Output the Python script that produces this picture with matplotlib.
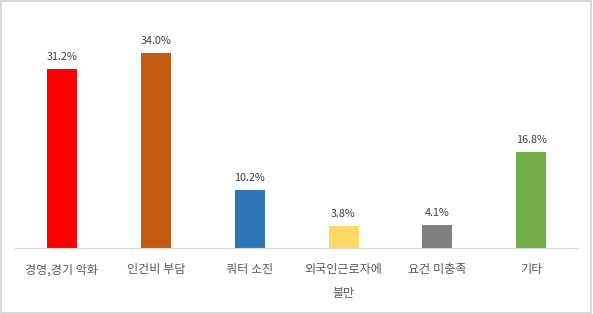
import matplotlib
matplotlib.use("Agg")
import matplotlib.pyplot as plt
from matplotlib.patches import Rectangle

plt.rcParams['font.family'] = ['Noto Sans CJK KR', 'DejaVu Sans']

categories = ["경영,경기 악화", "인건비 부담", "쿼터 소진", "외국인근로자에\n불만", "요건 미충족", "기타"]
values = [31.2, 34.0, 10.2, 3.8, 4.1, 16.8]
value_labels = ["31.2%", "34.0%", "10.2%", "3.8%", "4.1%", "16.8%"]
colors = ["#FF0000", "#C55A11", "#2E75B6", "#FFD966", "#7F7F7F", "#70AD47"]

fig = plt.figure(figsize=(5.93, 3.14), dpi=100)
ax = fig.add_axes([0.0253, 0.21, 0.9497, 0.73])

x = list(range(len(categories)))
bars = ax.bar(x, values, width=0.32, color=colors, zorder=2)
for xi, v, lab in zip(x, values, value_labels):
    ax.annotate(lab, (xi, v), xytext=(0, 5), textcoords="offset points",
                ha="center", va="bottom", fontsize=7.8, color="#404040")

ax.set_xlim(-0.5, len(categories) - 0.5)
ax.set_ylim(0, 40)
ax.set_xticks(x)
ax.set_xticklabels(categories, fontsize=8.7, color="#595959", linespacing=2.1, va="top")
ax.tick_params(axis="x", length=0, pad=11)
ax.set_yticks([])
for s in ["top", "right", "left"]:
    ax.spines[s].set_visible(False)
ax.spines["bottom"].set_color("#D9D9D9")
ax.spines["bottom"].set_linewidth(0.8)

fig.patches.append(Rectangle((0.002, 0.003), 0.995, 0.993, transform=fig.transFigure,
                             fill=False, edgecolor="#D0D0D0", linewidth=1.2))

fig.savefig("out.png", dpi=100)
